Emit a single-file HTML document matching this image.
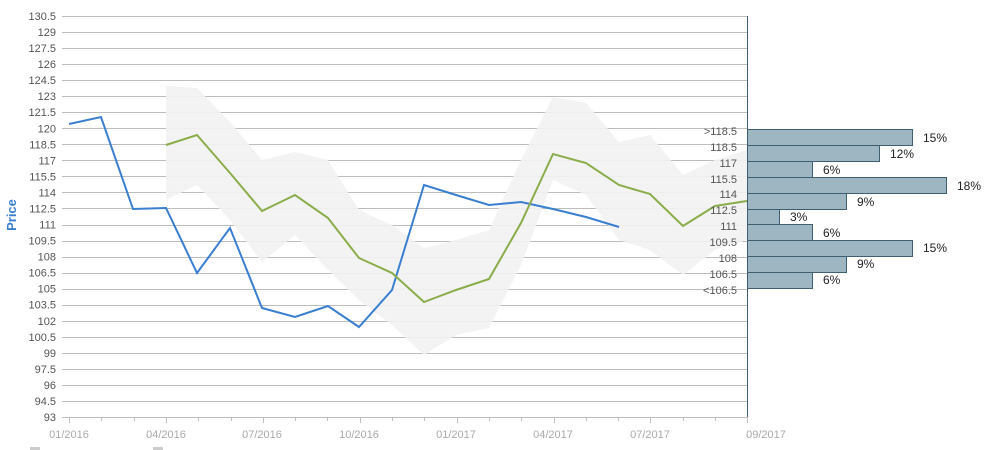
<!DOCTYPE html>
<html><head><style>body{margin:0;background:#fff}svg{display:block}</style></head><body>
<svg width="993" height="450" xmlns="http://www.w3.org/2000/svg" font-family="Liberation Sans, Arial, sans-serif">
<g id="grid" stroke="#bdbdbd" stroke-width="1"></g>
<polygon fill="#f2f2f2" opacity="0.9" points="166,86 197,88 230,122 262,160 295,152 328,160 359,210 392,225 424,248 456,240 489,230 521,160 553,97 586,103 619,142 650,135 683,175 715,160 747,150 747,240 715,250 683,275 650,250 619,240 586,195 553,180 521,265 489,328 456,335 424,355 392,325 359,300 328,270 295,235 262,262 230,220 197,185 166,200"/>
<g id="lines"></g>
<polyline fill="none" stroke="#3a7fcf" stroke-width="2" points="69,124 101,117 133,209 166,208 197,273 230,228 262,308 295,317 328,306 359,327 392,290 424,185 456,195 489,205 521,202 553,209 586,217 619,227"/>
<polyline fill="none" stroke="#8aad4a" stroke-width="2" points="166,145 197,135 230,173 262,211 295,195 328,218 359,258 392,273 424,302 456,290 489,279 521,223 553,154 586,163 619,185 650,194 683,226 715,206 747,201"/>
<g fill="#9eb6c2" stroke="#3f5f70" stroke-width="1">
<rect x="747.5" y="129.5" width="165" height="16"/>
<rect x="747.5" y="145.5" width="132" height="16"/>
<rect x="747.5" y="161.5" width="65" height="16"/>
<rect x="747.5" y="177.5" width="199" height="16"/>
<rect x="747.5" y="193.5" width="99" height="16"/>
<rect x="747.5" y="209.5" width="32" height="15"/>
<rect x="747.5" y="224.5" width="65" height="16"/>
<rect x="747.5" y="240.5" width="165" height="16"/>
<rect x="747.5" y="256.5" width="99" height="16"/>
<rect x="747.5" y="272.5" width="65" height="16"/>
</g>
<g font-size="12" fill="#222">
<text x="923" y="142">15%</text><text x="890" y="158">12%</text><text x="823" y="174">6%</text>
<text x="957" y="190">18%</text><text x="857" y="206">9%</text><text x="790" y="221">3%</text>
<text x="823" y="237">6%</text><text x="923" y="252">15%</text><text x="857" y="268">9%</text><text x="823" y="284">6%</text>
</g>
<g font-size="11" fill="#555" text-anchor="end">
<text x="737" y="135">&gt;118.5</text><text x="737" y="151">118.5</text><text x="737" y="167">117</text>
<text x="737" y="183">115.5</text><text x="737" y="198">114</text><text x="737" y="214">112.5</text>
<text x="737" y="230">111</text><text x="737" y="246">109.5</text><text x="737" y="262">108</text>
<text x="737" y="278">106.5</text><text x="737" y="294">&lt;106.5</text>
</g>
<line x1="747.5" y1="16" x2="747.5" y2="420" stroke="#3f5f70"/>
<g id="ylab" font-size="11" fill="#555" text-anchor="end"></g>
<g id="xt" stroke="#bdbdbd"></g>
<g font-size="11" fill="#aaa" text-anchor="middle">
<text x="69" y="438">01/2016</text><text x="166" y="438">04/2016</text><text x="262" y="438">07/2016</text>
<text x="359" y="438">10/2016</text><text x="456" y="438">01/2017</text><text x="553" y="438">04/2017</text>
<text x="650" y="438">07/2017</text><text x="766" y="438">09/2017</text>
</g>
<text transform="translate(16,215) rotate(-90)" text-anchor="middle" font-size="13" font-weight="bold" fill="#3a7fcf">Price</text>
<rect x="30" y="447" width="10" height="4" fill="#ccc"/><rect x="153" y="447" width="10" height="4" fill="#ccc"/>
<script>
var g=document.getElementById('grid'),yl=document.getElementById('ylab'),xt=document.getElementById('xt'),ns='http://www.w3.org/2000/svg';
for(var i=0;i<=25;i++){var y=16+i*16.04,v=(130.5-i*1.5);
var l=document.createElementNS(ns,'line');l.setAttribute('x1',62);l.setAttribute('x2',747);l.setAttribute('y1',Math.round(y)+.5);l.setAttribute('y2',Math.round(y)+.5);g.appendChild(l);
var t=document.createElementNS(ns,'text');t.setAttribute('x',56);t.setAttribute('y',y+4);t.textContent=(v%1?v.toFixed(1):v);yl.appendChild(t);}
for(var j=0;j<=21;j++){var x=Math.round(69+j*32.3)+.5;var l=document.createElementNS(ns,'line');l.setAttribute('x1',x);l.setAttribute('x2',x);l.setAttribute('y1',417);l.setAttribute('y2',j%3==0?423:421);xt.appendChild(l);}
</script>
</svg>
</body></html>
